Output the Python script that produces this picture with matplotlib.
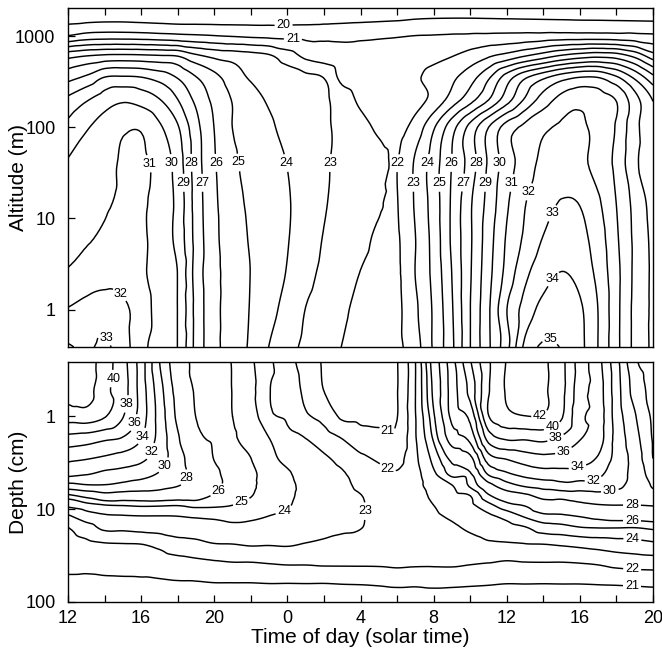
import numpy as np
import matplotlib
matplotlib.use("Agg")
import matplotlib.pyplot as plt
import matplotlib.tri as mtri
from matplotlib.ticker import NullLocator

plt.rcParams['font.family'] = ['Liberation Sans', 'DejaVu Sans']

# Solar time in hours from noon of day 1 (24 = midnight, 44 = 20:00 of day 2)
hours = list(range(12, 45))
hour_ticks = list(range(12, 45, 2))
hour_names = {12: '12', 16: '16', 20: '20', 24: '0', 28: '4',
              32: '8', 36: '12', 40: '16', 44: '20'}

# Air temperature (deg C); one row per altitude, one column per hour
altitude_m = [0.39, 1, 2.5, 6, 15, 40, 100, 200, 350, 600, 1000, 1500, 2030]
air_temp = [
    [33.1, 32.85, 33.15, 32.45, 31.3, 30.55, 29.98, 27.7, 26.3, 25.55, 24.85, 23.98, 23.33, 22.8, 22.4, 21.98, 21.7,
     21.6, 21.8, 22.6, 24.14, 25.8, 27.98, 29.83, 31.67, 34.25, 35.15, 34.95, 34.27, 32.98, 31.29, 29.75, 28.8],
    [32.05, 32.3, 32.4, 32.2, 31.55, 30.58, 29.98, 27.7, 26.3, 25.56, 24.94, 24.3, 23.67, 22.98, 22.58, 22.15, 21.8,
     21.7, 21.8, 22.82, 24.15, 25.9, 27.98, 29.85, 31.98, 33.4, 34.3, 34.5, 34.15, 32.98, 31.3, 29.75, 28.8],
    [31.1, 31.45, 31.7, 31.65, 31.2, 30.5, 29.98, 27.6, 26.3, 25.59, 24.98, 24.47, 23.94, 23.3, 22.8, 22.4, 21.98,
     21.8, 21.85, 23.02, 24.29, 26.02, 27.9, 29.67, 31.33, 32.75, 33.6, 34.03, 33.7, 32.71, 31.3, 29.8, 28.8],
    [30.75, 30.9, 31.15, 31.3, 31.15, 30.6, 29.67, 27.67, 26.25, 25.5, 24.91, 24.5, 24.05, 23.5, 22.95, 22.6, 22.2,
     21.9, 21.9, 22.98, 24.36, 26.17, 27.85, 29.54, 31.11, 32.18, 33.05, 33.5, 33.3, 32.5, 31.15, 29.8, 28.75],
    [30.45, 30.65, 30.9, 31.1, 31.1, 30.68, 29.7, 27.6, 26.2, 25.37, 24.82, 24.45, 24.08, 23.6, 23.08, 22.73, 22.4,
     22.07, 21.97, 23.12, 24.45, 26.15, 27.85, 29.33, 30.85, 31.95, 32.6, 33.05, 32.95, 32.15, 30.98, 29.7, 28.6],
    [30.08, 30.35, 30.7, 31.1, 31.15, 30.68, 29.55, 27.5, 26.1, 25.2, 24.71, 24.35, 23.98, 23.55, 23.12, 22.8, 22.52,
     22.25, 21.98, 23.14, 24.5, 26.02, 27.43, 29.14, 30.5, 31.5, 32.25, 32.5, 32.25, 31.6, 30.75, 29.2, 28.5],
    [29.26, 29.9, 30.4, 30.85, 30.9, 30.15, 29.1, 27.33, 25.98, 24.99, 24.57, 24.13, 23.78, 23.47, 23.15, 22.76, 22.3,
     21.85, 21.65, 22.4, 23.88, 25.6, 27.33, 28.99, 30.44, 31.26, 31.8, 32.15, 32.1, 31.75, 30.9, 29.3, 28.3],
    [28.23, 28.9, 29.5, 29.85, 29.6, 29.05, 28.02, 26.78, 25.75, 24.95, 24.35, 23.9, 23.65, 23.4, 23.15, 22.57, 21.8,
     21.5, 21.5, 21.7, 22.29, 23.44, 24.63, 25.98, 27.57, 29.14, 30.44, 31.35, 31.7, 31.5, 30.95, 29.4, 27.95],
    [26.67, 27.2, 28.05, 28.15, 28.05, 27.63, 26.95, 26.06, 25.31, 24.5, 23.9, 23.68, 23.45, 23.23, 22.98, 21.7, 21.4,
     21.3, 21.4, 21.85, 22.35, 22.8, 23.6, 24.86, 26.5, 27.88, 28.82, 29.6, 30.05, 30.02, 29.18, 27.83, 26.3],
    [24.73, 25.05, 25.25, 25.3, 25.25, 25.15, 25.02, 24.25, 23.8, 23.6, 23.4, 23.15, 22.5, 21.8, 21.5, 21.3, 21.2,
     21.2, 21.3, 21.5, 21.7, 21.98, 22.4, 22.9, 23.4, 24.02, 24.6, 25.2, 25.6, 25.8, 25.6, 24.8, 23.5],
    [21.05, 21.4, 21.5, 21.5, 21.45, 21.35, 21.25, 21.15, 21.05, 20.95, 20.85, 20.8, 20.75, 20.75, 20.8, 20.8, 20.85,
     20.9, 20.95, 21.02, 21.05, 21.1, 21.15, 21.2, 21.25, 21.3, 21.35, 21.4, 21.4, 21.4, 21.35, 21.3, 21.2],
    [19.75, 19.8, 19.85, 19.85, 19.8, 19.75, 19.7, 19.7, 19.7, 19.7, 19.7, 19.7, 19.7, 19.72, 19.75, 19.8, 19.85,
     19.9, 19.95, 20.05, 20.1, 20.12, 20.12, 20.1, 20.08, 20.06, 20.04, 20.02, 19.99, 19.98, 19.96, 19.94, 19.92],
    [19.3] * 33,
]

# Soil temperature (deg C); one depth profile (listed depths, cm) per hour
depth_cm = [0.26, 0.5, 1, 1.8, 2.9, 4.2, 5.6, 7.2, 9.3, 12, 16, 24, 39, 64, 100]
soil_profiles = [
    [44.5, 43.0, 40.9, 37.06, 34.33, 32.56, 29.2, 25.6, 24.12, 22.83, 21.96, 21.6, 21.15, 20.85, 20.4],
    [43.2, 42.9, 41.1, 36.71, 34.02, 32.1, 29.71, 26.4, 24.5, 23.54, 22.55, 21.75, 21.2, 20.8, 20.4],
    [40.9, 40.5, 40.15, 36.1, 33.57, 31.47, 29.78, 27.2, 24.78, 23.83, 23.17, 21.9, 21.3, 20.8, 20.4],
    [38.75, 38.9, 38.1, 35.6, 33.07, 31.13, 29.4, 27.0, 24.89, 23.9, 23.2, 21.94, 21.35, 20.8, 20.4],
    [35.0, 35.1, 35.1, 34.02, 32.35, 30.7, 29.0, 27.0, 25.02, 23.95, 23.3, 21.98, 21.4, 20.8, 20.4],
    [30.05, 30.8, 31.2, 31.3, 31.0, 29.79, 28.55, 27.0, 24.98, 23.95, 23.35, 22.25, 21.45, 20.85, 20.4],
    [26.8, 27.2, 27.6, 28.25, 28.75, 28.6, 28.05, 26.71, 24.91, 23.98, 23.48, 22.62, 21.56, 20.9, 20.4],
    [25.77, 25.85, 25.98, 26.35, 27.0, 27.4, 27.3, 26.6, 25.15, 24.1, 23.5, 22.75, 21.7, 20.9, 20.4],
    [25.4, 25.5, 25.65, 25.85, 25.97, 26.3, 26.35, 25.85, 25.08, 24.18, 23.6, 22.95, 21.81, 20.95, 20.4],
    [24.95, 24.97, 25.0, 25.15, 25.4, 25.55, 25.55, 25.4, 24.95, 24.3, 23.75, 22.98, 21.9, 20.95, 20.4],
    [24.17, 24.3, 24.5, 24.7, 25.02, 25.3, 25.25, 25.05, 24.6, 24.19, 23.69, 23.08, 21.9, 20.95, 20.4],
    [23.2, 23.05, 23.2, 24.05, 24.25, 24.35, 24.35, 24.3, 24.2, 23.98, 23.6, 23.05, 21.98, 20.98, 20.4],
    [22.35, 22.6, 22.85, 23.25, 23.8, 24.1, 24.2, 24.15, 24.05, 23.84, 23.5, 23.08, 22.05, 20.97, 20.4],
    [21.6, 21.75, 22.15, 23.05, 23.45, 23.65, 23.75, 23.75, 23.7, 23.55, 23.35, 22.95, 22.05, 20.98, 20.4],
    [20.9, 20.97, 21.67, 22.56, 23.15, 23.35, 23.45, 23.5, 23.45, 23.35, 23.2, 22.85, 22.1, 20.97, 20.4],
    [20.55, 20.65, 20.85, 22.05, 22.75, 23.1, 23.2, 23.25, 23.25, 23.2, 23.1, 22.75, 22.1, 21.01, 20.4],
    [20.3, 20.5, 20.8, 21.43, 22.24, 22.57, 22.83, 23.03, 23.08, 23.08, 23.02, 22.65, 22.1, 21.03, 20.4],
    [20.35, 20.5, 20.8, 21.3, 21.9, 22.25, 22.5, 22.65, 22.75, 22.75, 22.7, 22.55, 22.1, 21.08, 20.4],
    [20.95, 20.95, 20.97, 21.2, 21.7, 22.1, 22.35, 22.5, 22.55, 22.55, 22.5, 22.4, 22.15, 21.15, 20.4],
    [22.98, 22.98, 22.95, 22.9, 22.8, 22.7, 22.65, 22.6, 22.55, 22.5, 22.45, 22.35, 22.1, 21.12, 20.4],
    [26.7, 26.35, 25.8, 25.1, 24.3, 23.79, 23.5, 23.2, 22.98, 22.85, 22.7, 22.5, 22.1, 21.18, 20.4],
    [31.2, 30.9, 30.5, 28.8, 26.3, 25.3, 23.95, 23.7, 23.4, 23.12, 22.85, 22.6, 22.12, 21.15, 20.4],
    [35.8, 34.7, 32.6, 30.4, 27.33, 25.75, 25.15, 23.98, 23.73, 23.46, 23.14, 22.66, 22.03, 21.1, 20.4],
    [39.7, 39.8, 39.9, 36.5, 32.93, 30.2, 27.25, 25.8, 24.6, 23.77, 23.4, 22.85, 21.95, 21.05, 20.4],
    [42.1, 42.2, 41.44, 37.98, 34.02, 31.64, 29.14, 26.91, 25.55, 24.33, 23.58, 22.9, 21.83, 20.99, 20.4],
    [43.0, 42.9, 41.95, 37.98, 34.83, 32.57, 30.22, 27.54, 25.98, 25.09, 23.88, 22.95, 21.9, 21.0, 20.4],
    [42.35, 42.3, 41.85, 38.27, 35.29, 33.08, 30.75, 28.6, 26.92, 25.67, 24.5, 22.98, 21.91, 20.99, 20.4],
    [40.55, 40.6, 40.2, 37.4, 35.25, 33.1, 31.3, 28.6, 27.0, 25.75, 24.65, 23.1, 21.9, 21.0, 20.4],
    [37.14, 36.9, 36.5, 36.02, 34.67, 33.14, 31.0, 29.0, 27.43, 26.02, 24.9, 23.25, 21.95, 21.0, 20.4],
    [34.67, 35.0, 35.1, 34.9, 33.73, 32.35, 31.2, 29.25, 27.75, 26.35, 24.98, 23.4, 22.05, 21.03, 20.4],
    [30.67, 30.9, 31.1, 31.3, 31.3, 31.0, 30.5, 29.13, 27.87, 26.57, 24.98, 23.55, 22.25, 21.06, 20.4],
    [26.4, 27.2, 28.2, 28.8, 29.2, 29.3, 29.2, 28.7, 27.9, 26.6, 24.95, 23.65, 22.35, 21.1, 20.4],
    [25.0, 25.3, 25.6, 25.85, 26.02, 27.0, 27.8, 28.4, 27.98, 26.75, 25.15, 23.8, 22.4, 21.15, 20.4],
]

air_levels = list(range(20, 36))
soil_levels = [21, 22, 23, 24, 25, 26, 28, 30, 32, 34, 36, 38, 40, 42]

# Where the isotherm labels sit: (hour, altitude m) and (hour, depth cm)
air_label_pos = [
    (23.8, 1196), (24.3, 906), (16.65, 40.7), (17.74, 40.7), (18.73, 40.7), (18.3, 24.6),
    (19.33, 24.6), (20.1, 40.7), (21.19, 40.7), (23.98, 40.7), (26.17, 40.7), (29.89, 40.7),
    (30.93, 24.6), (31.64, 40.7), (32.4, 24.6), (33.0, 40.7), (33.72, 24.6), (34.43, 40.7),
    (34.87, 24.6), (35.63, 40.7), (36.23, 24.6), (37.22, 19.6), (38.31, 11.8), (38.64, 2.08),
    (38.7, 0.65), (15.12, 1.7), (14.3, 0.6),
]
soil_label_pos = [
    (14.41, 0.39), (15.28, 0.74), (15.72, 1.19), (16.21, 1.68), (16.7, 2.44), (17.42, 3.53),
    (18.78, 4.76), (20.26, 6.56), (21.57, 9.29), (23.87, 11.0), (28.36, 10.5), (29.5, 1.56),
    (29.45, 3.71), (37.82, 0.98), (38.53, 1.35), (38.75, 1.86), (39.19, 2.63), (39.9, 3.71),
    (40.77, 5.1), (41.65, 6.56), (42.85, 8.6), (42.85, 13.6), (42.85, 23.8), (42.85, 47.6),
    (42.85, 67.3),
]

LOG_STRETCH = 5.0  # one decade of height spans about five hours of width on the page


def smooth_triangulation(x, heights, values):
    """Refine the hour x log-height grid with a cubic interpolant for smooth isotherms."""
    gx, gy = np.meshgrid(np.asarray(x, float), np.log10(heights) * LOG_STRETCH)
    tri = mtri.Triangulation(gx.ravel(), gy.ravel())
    v = np.asarray(values, float).ravel()
    interp = mtri.CubicTriInterpolator(tri, v, kind='geom')
    fine, fine_v = mtri.UniformTriRefiner(tri).refine_field(v, triinterpolator=interp, subdiv=3)
    fine_tri = mtri.Triangulation(fine.x, 10 ** (fine.y / LOG_STRETCH), fine.triangles)
    return fine_tri, fine_v


def upright_labels(cs):
    for txt in cs.labelTexts:
        txt.set_rotation(0)


fig = plt.figure(figsize=(6.62, 6.57), dpi=100)
ax_air = fig.add_axes([68 / 662, 1 - 347 / 657, 585 / 662, 339 / 657])
ax_soil = fig.add_axes([68 / 662, 1 - 602 / 657, 585 / 662, 240 / 657])

# Upper panel: air
tri_a, val_a = smooth_triangulation(hours, altitude_m, air_temp)
ax_air.set_yscale('log')
ax_air.set_xlim(12, 44)
ax_air.set_ylim(0.39, 2030)
cs_air = ax_air.tricontour(tri_a, val_a, levels=air_levels, colors='black', linewidths=1.05)
ax_air.clabel(cs_air, fmt='%d', fontsize=9, inline=True, inline_spacing=2, manual=air_label_pos)
upright_labels(cs_air)

# Lower panel: soil
tri_s, val_s = smooth_triangulation(hours, depth_cm, np.array(soil_profiles).T)
ax_soil.set_yscale('log')
ax_soil.set_xlim(12, 44)
ax_soil.set_ylim(100, 0.26)
cs_soil = ax_soil.tricontour(tri_s, val_s, levels=soil_levels, colors='black', linewidths=1.05)
ax_soil.clabel(cs_soil, fmt='%d', fontsize=9, inline=True, inline_spacing=2, manual=soil_label_pos)
upright_labels(cs_soil)

for ax in (ax_air, ax_soil):
    ax.yaxis.set_minor_locator(NullLocator())
    ax.tick_params(which='both', direction='in', length=5, width=0.9, labelsize=13)
    ax.tick_params(axis='y', pad=9)
    for spine in ax.spines.values():
        spine.set_linewidth(1.0)
    ax.set_xticks(hour_ticks)

ax_air.xaxis.set_ticks_position('top')
ax_air.tick_params(axis='x', labeltop=False, labelbottom=False)
ax_air.set_yticks([1, 10, 100, 1000])
ax_air.set_yticklabels(['1', '10', '100', '1000'])
ax_air.set_ylabel('Altitude (m)', fontsize=15)
ax_air.yaxis.set_label_coords(-0.068, 0.5)

ax_soil.xaxis.set_ticks_position('bottom')
ax_soil.tick_params(axis='x', pad=6)
ax_soil.set_xticklabels([hour_names.get(h, '') for h in hour_ticks])
ax_soil.set_yticks([1, 10, 100])
ax_soil.set_yticklabels(['1', '10', '100'])
ax_soil.set_ylabel('Depth (cm)', fontsize=15)
ax_soil.yaxis.set_label_coords(-0.068, 0.5)
ax_soil.set_xlabel('Time of day (solar time)', fontsize=15)
ax_soil.xaxis.set_label_coords(0.5, -0.108)

fig.savefig('out.png', dpi=100)
